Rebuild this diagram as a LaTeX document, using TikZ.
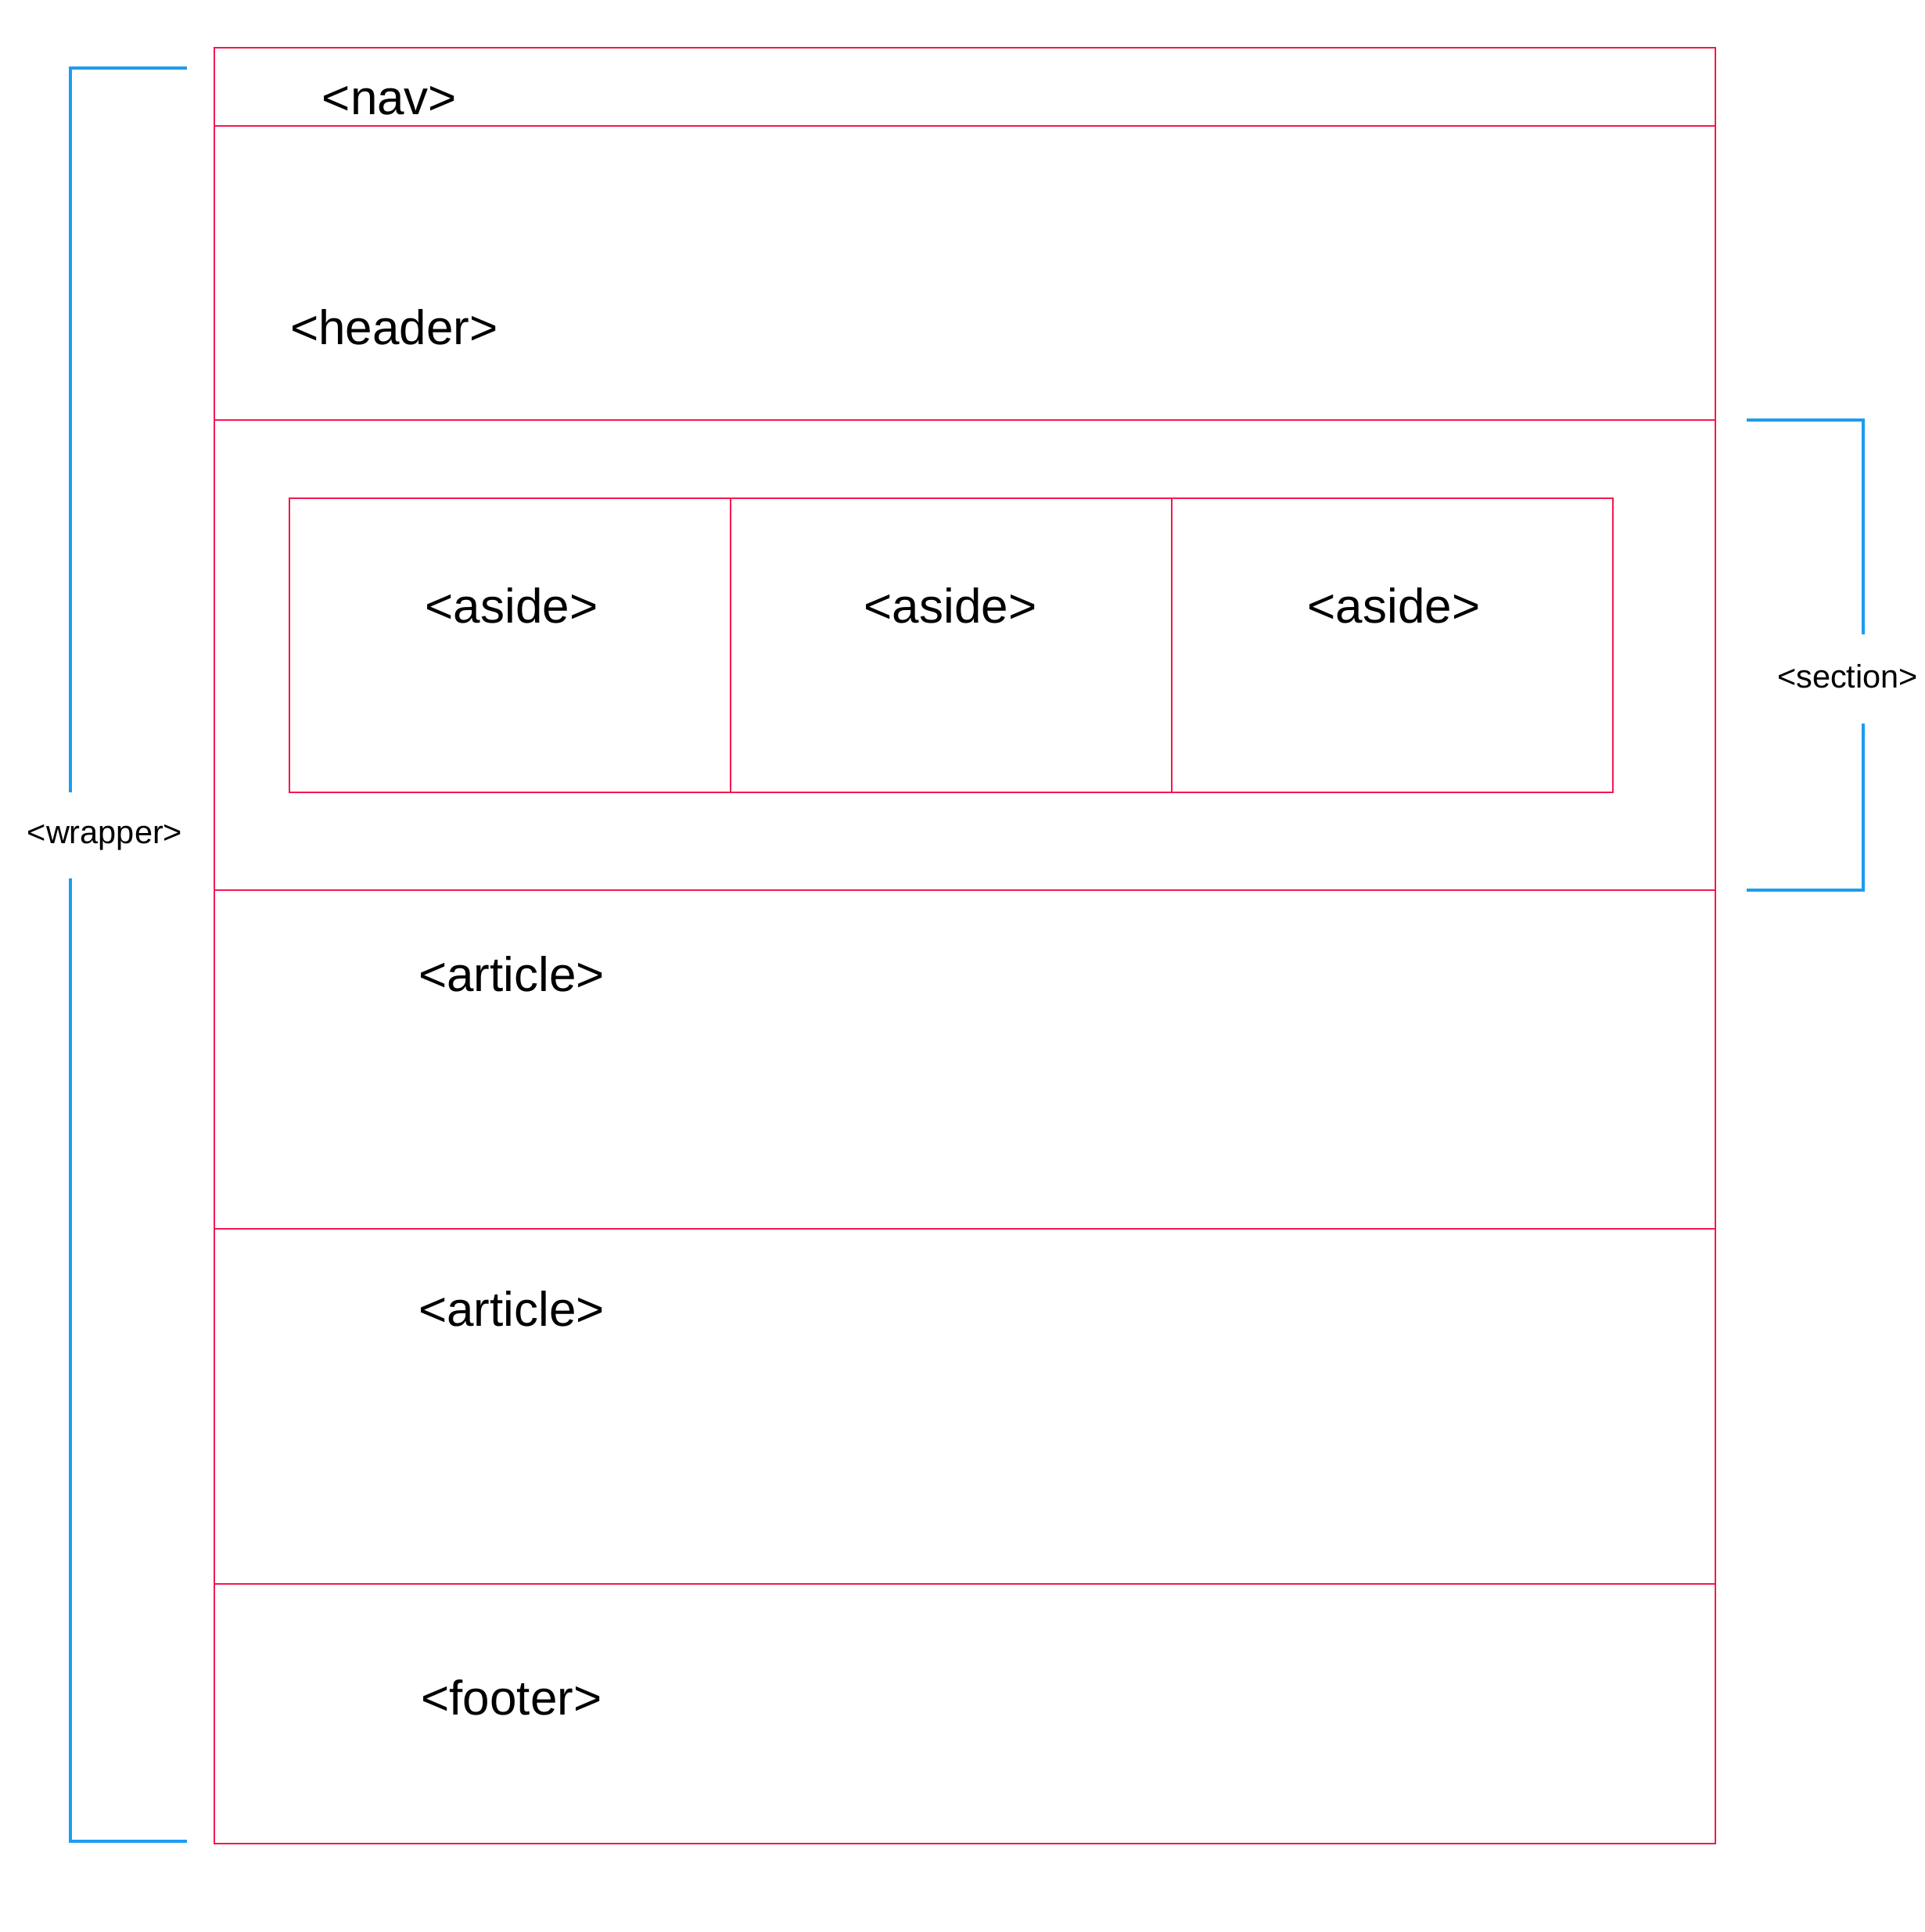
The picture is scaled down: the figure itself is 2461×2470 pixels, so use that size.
\documentclass[tikz,border=0pt]{standalone}
\usepackage{fontspec}
\setmainfont{Liberation Sans}
\usepackage{xcolor}
\definecolor{boxred}{HTML}{F5174F}
\definecolor{brkblue}{HTML}{1C9CF0}
\tikzset{
  part/.style={draw=boxred,line width=0.5pt},
  brk/.style={draw=brkblue,line width=0.8pt},
  tag/.style={inner sep=0pt,font=\fontsize{12.4}{14}\selectfont},
  smalltag/.style={inner sep=0pt,font=\fontsize{8.3}{10}\selectfont}
}
\begin{document}
\begin{tikzpicture}[x=0.2pt,y=-0.2pt]
            \useasboundingbox (0,0) rectangle (2461,2470);
            % page blocks
            \draw[part] (274,61) rectangle (2193,2357);
            \draw[part] (274,161)--(2193,161);
            \draw[part] (274,537)--(2193,537);
            \draw[part] (274,1138)--(2193,1138);
            \draw[part] (274,1571)--(2193,1571);
            \draw[part] (274,2025)--(2193,2025);
            % asides
            \draw[part] (370,637) rectangle (2062,1013);
            \draw[part] (934,637)--(934,1013);
            \draw[part] (1498,637)--(1498,1013);
            % labels
            \node[tag] (nav) at (498,129) {<nav>};
            \node[tag] (header) at (504,418) {<header>};
            \node[tag] (asideA) at (654,774) {<aside>};
            \node[tag] (asideB) at (1215,774) {<aside>};
            \node[tag] (asideC) at (1782,774) {<aside>};
            \node[tag] (articleA) at (654,1245) {<article>};
            \node[tag] (articleB) at (654,1673) {<article>};
            \node[tag] (footer) at (654,2170) {<footer>};
            % brackets
            \node[smalltag] (wrapper) at (134,1071) {<wrapper>};
            \coordinate (wtop) at (90,87);
            \coordinate (wbot) at (90,2354);
            \draw[brk] (90,1013)--(wtop)--(239,87);
            \draw[brk] (90,1123)--(wbot)--(239,2354);
            \node[smalltag] (section) at (2362,865) {<section>};
            \coordinate (stop) at (2382,537);
            \coordinate (sbot) at (2382,1138);
            \draw[brk] (2382,811)--(stop)--(2233,537);
            \draw[brk] (2382,925)--(sbot)--(2233,1138);
        \end{tikzpicture}
\end{document}
